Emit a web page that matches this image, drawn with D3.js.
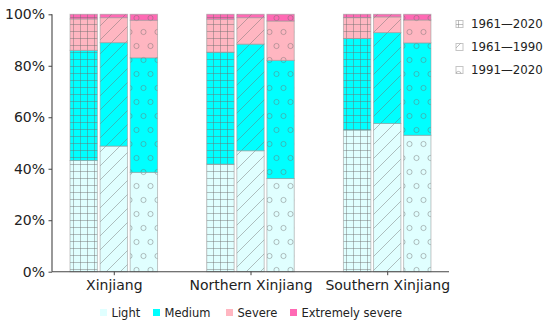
<!DOCTYPE html>
<html>
<head>
<meta charset="utf-8">
<script src="https://cdn.jsdelivr.net/npm/d3@7"></script>
<style>
  body { margin: 0; background: #fff; }
  svg { display: block; font-family: 'DejaVu Sans', sans-serif; }
</style>
</head>
<body>
<div id="chart"></div>
<script>
'use strict'

const regions = ['Xinjiang', 'Northern Xinjiang', 'Southern Xinjiang']
const periods = ['1961\u20142020', '1961\u20141990', '1991\u20142020']
const levels = ['Light', 'Medium', 'Severe', 'Extremely severe']
const yTicks = [0, 20, 40, 60, 80, 100]

// percent share, [region][period]
const light = [[43.2, 48.8, 38.6], [41.8, 47.0, 36.2], [55.0, 57.6, 53.0]]
const medium = [[42.8, 40.2, 44.5], [43.5, 41.4, 45.9], [35.6, 35.3, 35.9]]
const severe = [[12.2, 9.7, 14.6], [12.8, 10.3, 15.3], [8.1, 6.1, 8.9]]
const extreme = [[1.8, 1.3, 2.3], [1.9, 1.3, 2.6], [1.3, 1.0, 2.2]]

const colors = ['#e0ffff', '#00ffff', '#ffb6c1', '#ff69b4']
const hatchIds = ['hatchGrid', 'hatchSlash', 'hatchCircle']

const width = 550, height = 323
const svg = d3.select('#chart').append('svg')
  .attr('width', width)
  .attr('height', height)

// hatch patterns
const defs = svg.append('defs')
const hatchColor = 'rgba(110,110,110,0.45)'

const pGrid = defs.append('pattern').attr('id', 'hatchGrid')
  .attr('patternUnits', 'userSpaceOnUse').attr('width', 7).attr('height', 7)
pGrid.append('path').attr('d', 'M3.5,0V7M0,3.5H7')
  .attr('stroke', hatchColor).attr('stroke-width', 1).attr('fill', 'none')

const pSlash = defs.append('pattern').attr('id', 'hatchSlash')
  .attr('patternUnits', 'userSpaceOnUse').attr('width', 14).attr('height', 14)
pSlash.append('path').attr('d', 'M-1,15L15,-1M-8,8L8,-8M6,22L22,6')
  .attr('stroke', hatchColor).attr('stroke-width', 1).attr('fill', 'none')

const pCircle = defs.append('pattern').attr('id', 'hatchCircle')
  .attr('patternUnits', 'userSpaceOnUse').attr('width', 14).attr('height', 28)
;[[3.5, 4], [10.5, 18]].forEach(([cx, cy]) => {
  pCircle.append('circle').attr('cx', cx).attr('cy', cy).attr('r', 2.6)
    .attr('stroke', hatchColor).attr('stroke-width', 1).attr('fill', 'none')
})

const x = d3.scaleLinear().domain([-0.452, 2.452]).range([52, 449])
const y = d3.scaleLinear().domain([0, 100]).range([271.7, 14.3])
const offsets = [-0.22, 0, 0.22]
const barW = x(0.2) - x(0)

// stacked segments
const series = [light, medium, severe, extreme]
const segs = []
regions.forEach((r, ri) => {
  periods.forEach((p, pi) => {
    let base = 0
    series.forEach((s, li) => {
      const v = s[ri][pi]
      segs.push({ ri, pi, li, y0: base, y1: base + v })
      base += v
    })
  })
})

const bars = svg.append('g')
const segG = bars.selectAll('g.seg').data(segs).enter().append('g').attr('class', 'seg')
segG.append('rect')
  .attr('x', d => x(d.ri + offsets[d.pi]) - barW / 2)
  .attr('width', barW)
  .attr('y', d => y(d.y1))
  .attr('height', d => y(d.y0) - y(d.y1))
  .attr('fill', d => colors[d.li])
segG.append('rect')
  .attr('x', d => x(d.ri + offsets[d.pi]) - barW / 2)
  .attr('width', barW)
  .attr('y', d => y(d.y1))
  .attr('height', d => y(d.y0) - y(d.y1))
  .attr('fill', d => `url(#${hatchIds[d.pi]})`)
  .attr('stroke', 'rgba(150,150,150,0.55)')
  .attr('stroke-width', 1)

// axes
const yAxis = d3.axisLeft(y).tickValues(yTicks).tickFormat(d => d + '%').tickSize(3.5).tickPadding(3.5)
const gy = svg.append('g').attr('transform', 'translate(52,0)').call(yAxis)
const xAxis = d3.axisBottom(x).tickValues([0, 1, 2]).tickFormat(i => regions[i]).tickSize(3.5).tickPadding(5)
const gx = svg.append('g').attr('transform', 'translate(0,271.7)').call(xAxis)
;[gx, gy].forEach(g => {
  g.select('.domain').attr('stroke', '#444').attr('stroke-width', 1.1)
    .attr('d', g === gx ? 'M52,0H449' : 'M0,14.3V271.7')
  g.selectAll('.tick line').attr('stroke', '#444')
  g.selectAll('.tick text').attr('fill', '#222').style('font-size', '14px')
    .style('font-family', 'DejaVu Sans')
})

// bottom legend
const legX = [100, 153, 226, 290]
const leg = svg.append('g')
levels.forEach((l, i) => {
  leg.append('rect').attr('x', legX[i]).attr('y', 309).attr('width', 7).attr('height', 7)
    .attr('fill', colors[i])
  leg.append('text').attr('x', legX[i] + 11.5).attr('y', 316.5)
    .style('font-size', '11.5px').attr('fill', '#222').text(l)
})

// period legend
const leg2 = svg.append('g')
periods.forEach((p, i) => {
  const cy = 24 + i * 23
  leg2.append('rect').attr('x', 456).attr('y', cy - 3.5).attr('width', 7).attr('height', 7)
    .attr('fill', '#fff')
  leg2.append('rect').attr('x', 456).attr('y', cy - 3.5).attr('width', 7).attr('height', 7)
    .attr('fill', `url(#${hatchIds[i]})`).attr('stroke', 'rgba(150,150,150,0.55)')
  leg2.append('text').attr('x', 471).attr('y', cy + 4.4)
    .style('font-size', '11.8px').attr('fill', '#222').text(p)
})
</script>
</body>
</html>
